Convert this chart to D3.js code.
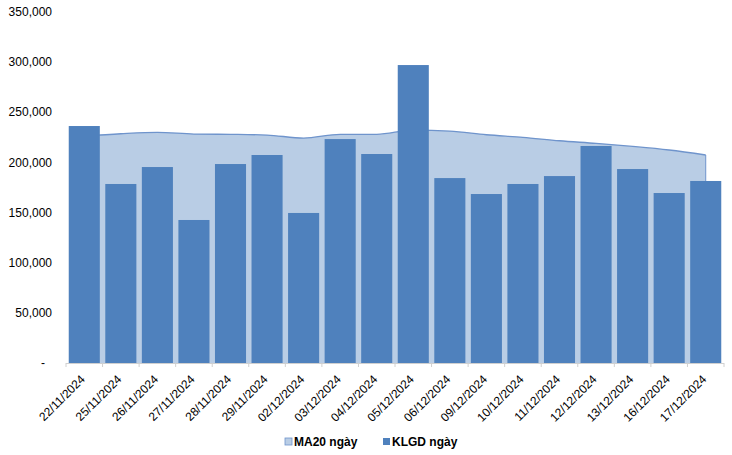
<!DOCTYPE html>
<html><head><meta charset="utf-8">
<script src="https://cdn.jsdelivr.net/npm/d3@7"></script>
<style>body{margin:0;background:#fff}svg{display:block;font-family:"Liberation Sans",Arial,sans-serif}</style>
</head><body><svg id="c" width="732" height="455"></svg>
<script>
const categories = ["22/11/2024","25/11/2024","26/11/2024","27/11/2024","28/11/2024","29/11/2024","02/12/2024","03/12/2024","04/12/2024","05/12/2024","06/12/2024","09/12/2024","10/12/2024","11/12/2024","12/12/2024","13/12/2024","16/12/2024","17/12/2024"];
const klgd = [236300,178500,195400,142600,198400,207400,149600,223300,208400,297100,184400,168500,178500,186400,216400,193400,169500,181500];
const ma20 = [226300,228600,230000,228300,228000,227300,224300,228000,228000,232300,231300,227600,225000,221600,219000,216000,212400,207400];
const yTicks = [0,50000,100000,150000,200000,250000,300000,350000];
const seriesNames = ["MA20 ngày","KLGD ngày"];

const svg = d3.select("#c");
const m = {l:66, r:8, t:12, b:92};
const W = 732, H = 455;
const x = d3.scaleBand().domain(categories).range([m.l, W - m.r]).paddingInner(0.15).paddingOuter(0.075);
const y = d3.scaleLinear().domain([0,350000]).range([H - m.b, m.t]);
const cx = d => x(d) + x.bandwidth()/2;

// area
const area = d3.area().x((d,i)=>cx(categories[i])).y0(y(0)).y1(d=>y(d)).curve(d3.curveMonotoneX);
const line = d3.line().x((d,i)=>cx(categories[i])).y(d=>y(d)).curve(d3.curveMonotoneX);
svg.append("path").datum(ma20).attr("d", area).attr("fill","#b9cde5");
svg.append("path").datum(ma20).attr("d", line).attr("fill","none").attr("stroke","#6f94cc").attr("stroke-width",1.3);
svg.append("line").attr("x1",cx(categories[categories.length-1])).attr("x2",cx(categories[categories.length-1]))
  .attr("y1",y(ma20[ma20.length-1])).attr("y2",y(0)).attr("stroke","#6f94cc").attr("stroke-width",1);

// bars
svg.selectAll("rect.bar").data(klgd).join("rect").attr("class","bar")
  .attr("x",(d,i)=>x(categories[i])).attr("width",x.bandwidth())
  .attr("y",d=>y(d)).attr("height",d=>y(0)-y(d)).attr("fill","#4f81bd");

// x axis
const step = x.step();
const xg = svg.append("g");
xg.append("line").attr("x1",m.l).attr("x2",W-m.r).attr("y1",y(0)+0.5).attr("y2",y(0)+0.5).attr("stroke","#d0d0d0");
const bounds = d3.range(categories.length+1).map(i=>m.l + i*step);
xg.selectAll("line.tk").data(bounds).join("line").attr("class","tk")
  .attr("x1",d=>d).attr("x2",d=>d).attr("y1",y(0)).attr("y2",y(0)+4).attr("stroke","#d0d0d0");
xg.selectAll("text").data(categories).join("text")
  .attr("transform",d=>`translate(${cx(d)+1.5},${y(0)+17}) rotate(-45)`)
  .attr("text-anchor","end").attr("font-size",12).attr("fill","#000").text(d=>d);

// y axis labels
svg.append("g").selectAll("text").data(yTicks).join("text")
  .attr("x",52).attr("y",d=>y(d)).attr("dy","0.35em").attr("text-anchor","end")
  .attr("font-size",12).attr("fill","#000").text(d=> d===0 ? "-" : d3.format(",")(d))
  .attr("dx", d=> d===0 ? -7 : 0);

// legend
const lg = svg.append("g").attr("font-size",12).attr("font-weight","bold");
const lx = [285, 383];
const lcol = ["#b9cde5","#4f81bd"];
seriesNames.forEach((n,i)=>{
  lg.append("rect").attr("x",lx[i]).attr("y",438).attr("width",7).attr("height",7).attr("fill",lcol[i])
    .attr("stroke", i===0 ? "#6f94cc" : "none").attr("stroke-width",0.8);
  lg.append("text").attr("x",lx[i]+9).attr("y",442).attr("dy","0.35em").attr("fill","#000").text(n);
});
</script></body></html>
